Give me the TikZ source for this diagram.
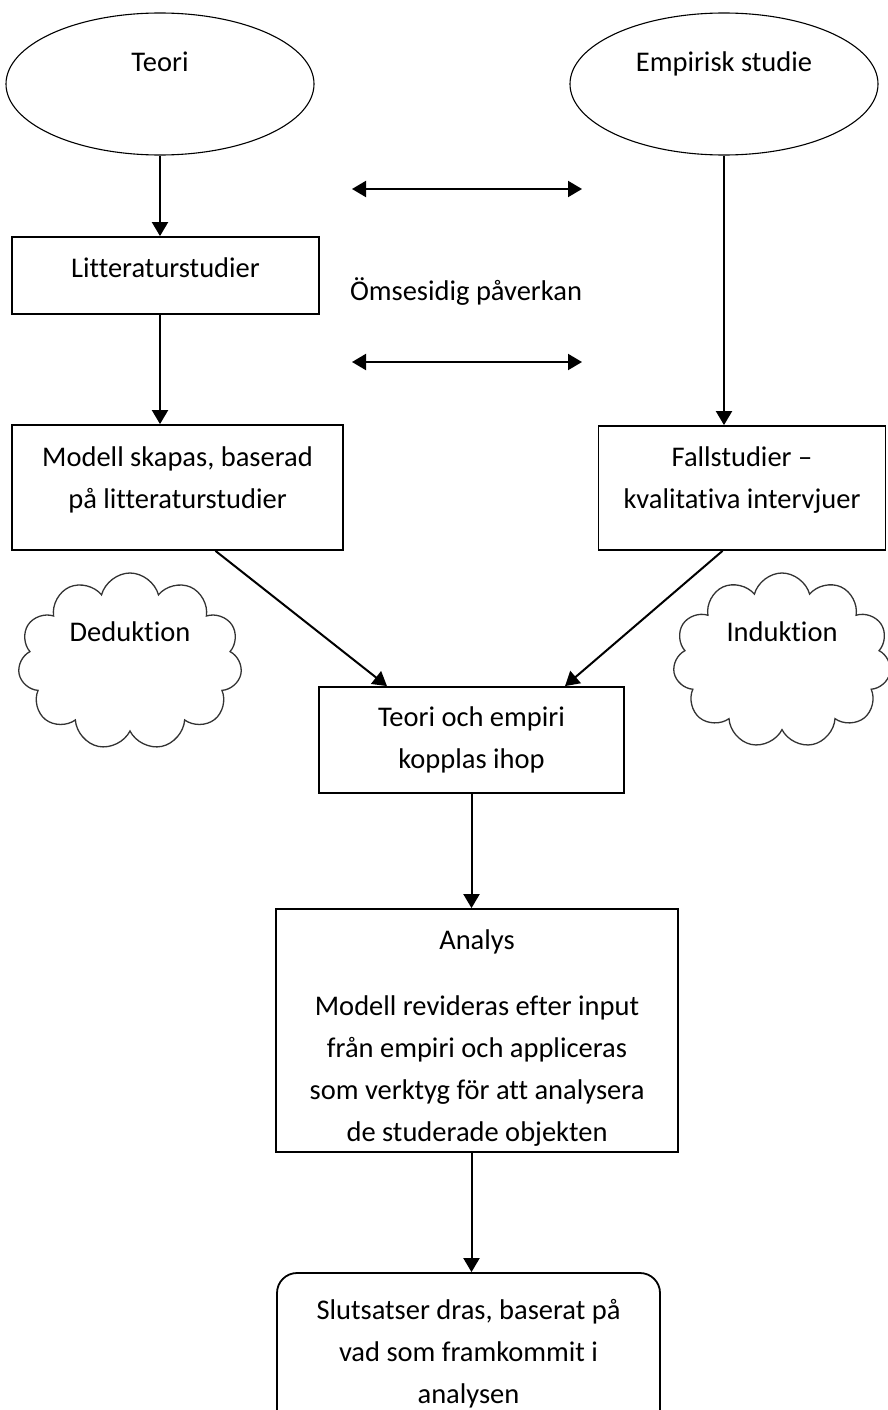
\documentclass[tikz,border=0pt]{standalone}
\usepackage{fontspec}
\setmainfont{Carlito}[Ligatures={NoCommon}]
\usepackage{tikz}
\usetikzlibrary{arrows.meta,shapes.geometric,shapes.symbols,positioning}

\begin{document}
\begin{tikzpicture}[x=1pt, y=-1pt,
  font=\fontsize{28.5}{42}\selectfont,
  >={Triangle[length=14pt,width=16pt]},
  tbox/.style n args={3}{draw, line width=1.8pt, inner sep=0pt,
    execute at begin node={\begin{minipage}[c][#2][t]{#1}\centering\rule{0pt}{#3}},
    execute at end node={\end{minipage}}},
  ovalnode/.style={ellipse, draw, line width=1.1pt, minimum width=308pt, minimum height=142pt, text height=20pt, text depth=44pt},
  cloudnode/.style={cloud, cloud puffs=11, cloud ignores aspect, draw=black!80, line width=1.3pt, minimum width=224pt, minimum height=177pt},
  link/.style={->, line width=2pt}]
	\useasboundingbox (0,0) rectangle (888,1410);
	\clip (0,0) rectangle (888,1410);

	% top row
	\node[ovalnode] (teori) at (160,84) {Teori};
	\node[ovalnode] (empiri) at (724,84) {Empirisk studie};

	\node[tbox={307pt}{77pt}{40pt}] (litt) at (165.5,275.5) {Litteraturstudier\hspace*{18pt}};
	\node[tbox={331pt}{125pt}{41pt}] (modell) at (177.5,487.5) {Modell skapas, baserad\\på litteraturstudier};
	\node[tbox={287pt}{124pt}{40pt}] (fall) at (742,488) {Fallstudier –\\kvalitativa intervjuer};

	% mutual influence
	\node (omses) at (466,292) {Ömsesidig påverkan};
	\coordinate (la) at (352,189);
	\coordinate (ra) at (582,189);
	\coordinate (lb) at (352,362);
	\coordinate (rb) at (582,362);

	% clouds
	\node[cloudnode, label={[yshift=30pt]center:Deduktion}] (ded) at (130,661.5) {};
	\node[cloudnode, minimum width=218pt, minimum height=175pt, label={[yshift=29pt]center:Induktion}] (ind) at (782,660.5) {};

	% lower part
	\node[tbox={305pt}{106pt}{39pt}] (koppl) at (471.5,740) {Teori och empiri\\kopplas ihop};
	\node[tbox={402pt}{243pt}{40pt}] (analys) at (477,1030.5) {Analys\\[24pt]Modell revideras efter input\\från empiri och appliceras\\som verktyg för att analysera\\de studerade objekten};
	\node[tbox={383pt}{157pt}{46pt}, rounded corners=20pt] (slut) at (468.5,1351.5) {Slutsatser dras, baserat på\\vad som framkommit i\\analysen};

	\draw[link] (teori) -- (teori |- litt.north);
	\draw[link] (teori |- litt.south) -- (teori |- modell.north);
	\draw[link] (empiri) -- (empiri |- fall.north);
	\draw[<->, line width=2pt] (la) -- (ra);
	\draw[<->, line width=2pt] (lb) -- (rb);
	\draw[link] ([xshift=38pt]modell.south) -- ([xshift=-84.5pt]koppl.north);
	\draw[link] ([xshift=-19.5pt]fall.south) -- ([xshift=93.5pt]koppl.north);
	\draw[link] (koppl) -- (koppl |- analys.north);
	\draw[link] (koppl |- analys.south) -- (koppl |- slut.north);
\end{tikzpicture}
\end{document}
